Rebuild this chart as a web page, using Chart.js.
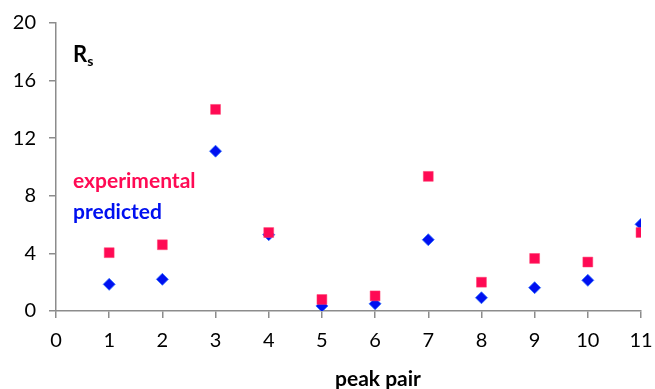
<!DOCTYPE html>
<html>
<head>
<meta charset="utf-8">
<script src="https://cdn.jsdelivr.net/npm/chart.js@4/dist/chart.umd.min.js"></script>
<style>
html,body{margin:0;padding:0;background:#fff;}
#wrap{width:655px;height:389px;position:relative;}
</style>
</head>
<body>
<div id="wrap"><canvas id="c" width="655" height="389"></canvas></div>
<script>
const peakPairs = [1, 2, 3, 4, 5, 6, 7, 8, 9, 10, 11];
const experimental = [4.05, 4.6, 14.0, 5.45, 0.8, 1.05, 9.35, 2.0, 3.65, 3.4, 5.45];
const predicted = [1.85, 2.2, 11.1, 5.3, 0.35, 0.5, 4.95, 0.92, 1.62, 2.13, 6.02];
const xTicks = [0, 1, 2, 3, 4, 5, 6, 7, 8, 9, 10, 11];
const yTicks = [0, 4, 8, 12, 16, 20];

const PINK = '#ff0a54';
const BLUE = '#0010f0';
const FONT = 'Lato, "Open Sans", sans-serif';

const textPlugin = {
  id: 'texts',
  afterDraw(chart) {
    const ctx = chart.ctx;
    const area = chart.chartArea;
    ctx.save();
    ctx.textBaseline = 'alphabetic';
    ctx.textAlign = 'left';
    const x0 = area.left + 17;
    ctx.fillStyle = '#000';
    ctx.font = 'bold 22px ' + FONT;
    ctx.fillText('R', x0, 62);
    const rw = ctx.measureText('R').width;
    ctx.font = 'bold 14px ' + FONT;
    ctx.fillText('s', x0 + rw, 66);
    ctx.font = 'bold 21px ' + FONT;
    ctx.fillStyle = PINK;
    ctx.fillText('experimental', x0, 188);
    ctx.fillStyle = BLUE;
    ctx.fillText('predicted', x0, 219);
    ctx.fillStyle = '#000';
    ctx.font = 'bold 21px ' + FONT;
    ctx.textAlign = 'center';
    ctx.fillText('peak pair', 378, 386);
    ctx.restore();
  }
};

new Chart(document.getElementById('c'), {
  type: 'scatter',
  data: {
    datasets: [
      {
        label: 'predicted',
        data: peakPairs.map((x, i) => ({x: x, y: predicted[i]})),
        pointStyle: 'rectRot',
        pointRadius: 6,
        backgroundColor: BLUE,
        borderColor: '#3070ff',
        borderWidth: 0.8,
        order: 2
      },
      {
        label: 'experimental',
        data: peakPairs.map((x, i) => ({x: x, y: experimental[i]})),
        pointStyle: 'rect',
        pointRadius: 7,
        backgroundColor: PINK,
        borderColor: '#ff4070',
        borderWidth: 0.5,
        order: 1
      }
    ]
  },
  options: {
    responsive: false,
    animation: false,
    events: [],
    layout: {padding: {top: 23, right: 14, left: 0, bottom: 0}},
    plugins: {legend: {display: false}, tooltip: {enabled: false}},
    scales: {
      x: {
        type: 'linear',
        min: 0, max: 11,
        afterBuildTicks(s) { s.ticks = xTicks.map(v => ({value: v})); },
        afterFit(s) { s.height = 78; s.paddingLeft = 0; s.paddingRight = 0; },
        border: {color: '#8c8c8c', width: 1.5},
        grid: {drawOnChartArea: false, drawTicks: true, tickLength: 7, color: '#8c8c8c', lineWidth: 1.5},
        ticks: {color: '#000', font: {family: FONT, size: 20}, padding: 11, maxRotation: 0, autoSkip: false}
      },
      y: {
        type: 'linear',
        min: 0, max: 20,
        afterBuildTicks(s) { s.ticks = yTicks.map(v => ({value: v})); },
        afterFit(s) { s.width = 56; s.paddingTop = 0; s.paddingBottom = 0; },
        border: {color: '#8c8c8c', width: 1.5},
        grid: {drawOnChartArea: false, drawTicks: true, tickLength: 7, color: '#8c8c8c', lineWidth: 1.5},
        ticks: {color: '#000', font: {family: FONT, size: 20}, padding: 13}
      }
    }
  },
  plugins: [textPlugin]
});
</script>
</body>
</html>
